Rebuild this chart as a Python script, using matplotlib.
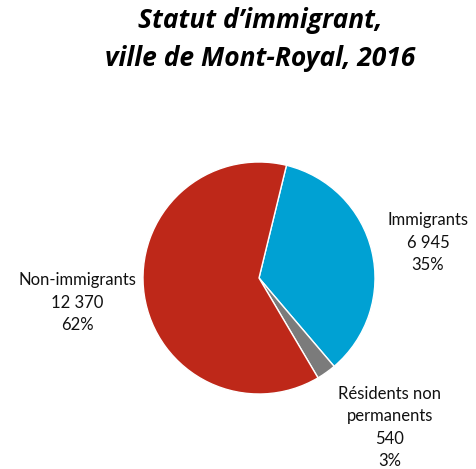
import matplotlib
matplotlib.use("Agg")
import matplotlib.pyplot as plt

# Données
categories = ["Immigrants", "Résidents non\npermanents", "Non-immigrants"]
values = [6945, 540, 12370]
value_labels = ["6 945", "540", "12 370"]
pct_labels = ["35%", "3%", "62%"]
colors = ["#00A1D3", "#7B7B7B", "#BE2819"]

W, H = 477, 469
fig = plt.figure(figsize=(W / 100, H / 100), dpi=100)
ax = fig.add_axes([0, 0, 1, 1])

# centre et rayon en pixels (y vers le haut)
cx, cy, r = 259, H - 278, 116
ax.pie(values, colors=colors, startangle=76.3, counterclock=False,
       center=(cx, cy), radius=r, frame=True,
       wedgeprops=dict(edgecolor="white", linewidth=1.0))
ax.set_xlim(0, W)
ax.set_ylim(0, H)
ax.set_aspect("equal")
ax.axis("off")

title_x = 260 / W
fig.text(title_x, 1 - 21 / H, "Statut d’immigrant,", ha="center", va="center",
         fontsize=19, fontweight="bold", fontstyle="italic", family="Open Sans")
fig.text(title_x, 1 - 59 / H, "ville de Mont-Royal, 2016", ha="center", va="center",
         fontsize=19, fontweight="bold", fontstyle="italic", family="Open Sans")

# positions des étiquettes (pixels)
label_pos = [(428, 220), (390, 394), (77, 280)]
for cat, vl, pl, (lx, ly) in zip(categories, value_labels, pct_labels, label_pos):
    lines = cat.split("\n") + [vl, pl]
    for i, line in enumerate(lines):
        ax.text(lx, H - (ly + i * 22.5), line, ha="center", va="center",
                fontsize=12, family="Lato", color="#111111")

fig.savefig("out.png", dpi=100)
